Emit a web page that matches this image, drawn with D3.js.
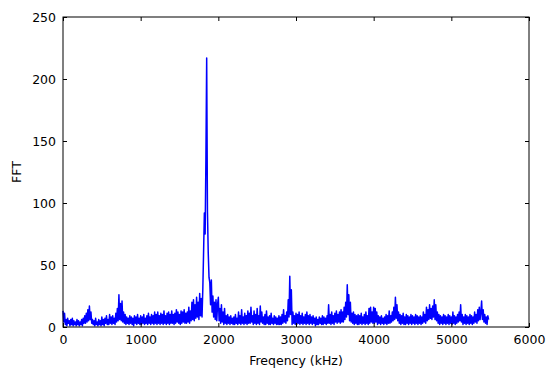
<!DOCTYPE html>
<html>
<head>
<meta charset="utf-8">
<script src="https://cdn.jsdelivr.net/npm/d3@7/dist/d3.min.js"></script>
<style>
  html, body { margin: 0; padding: 0; background: #fff; }
  svg { display: block; font-family: "DejaVu Sans", sans-serif; }
</style>
</head>
<body>
<svg id="chart" width="555" height="377"></svg>
<script>
// ---- data ----
const freqStart = 0;      // kHz
const freqStep = 10;      // kHz between FFT bins
const fftValues = [
  13, 4, 11, 2, 6, 1, 7, 3, 5, 1, 6, 2, 7, 1, 5, 2, 4, 1, 6, 2,
  5, 1, 4, 2, 6, 1, 7, 3, 9, 3, 11, 4, 14, 5, 17, 6, 12, 3, 6, 2,
  5, 1, 7, 2, 4, 1, 6, 2, 5, 1, 8, 2, 6, 1, 7, 3, 9, 2, 6, 2,
  10, 3, 8, 2, 9, 3, 7, 2, 11, 4, 15, 5, 26, 6, 19, 5, 21, 4, 12, 3,
  10, 2, 8, 3, 7, 2, 9, 3, 8, 2, 7, 1, 9, 3, 8, 2, 10, 3, 7, 2,
  9, 2, 8, 3, 10, 2, 7, 3, 9, 2, 11, 3, 8, 2, 10, 3, 9, 2, 12, 3,
  10, 2, 12, 3, 9, 2, 11, 3, 10, 2, 13, 3, 9, 2, 11, 3, 12, 2, 10, 3,
  13, 3, 10, 2, 11, 3, 14, 4, 12, 3, 10, 2, 13, 3, 12, 4, 14, 3, 11, 3,
  12, 4, 16, 3, 13, 5, 20, 6, 22, 5, 18, 7, 24, 8, 20, 6, 27, 9, 23, 8,
  30, 60, 92, 75, 135, 217, 93, 60, 40, 36, 18, 38, 12, 25, 8, 20, 6, 22, 5, 18,
  24, 5, 15, 3, 18, 4, 12, 2, 15, 3, 9, 2, 10, 3, 8, 2, 9, 3, 7, 2,
  8, 2, 10, 3, 7, 2, 12, 3, 9, 2, 14, 3, 8, 2, 11, 3, 9, 2, 13, 3,
  11, 3, 16, 4, 9, 2, 13, 3, 10, 2, 15, 3, 9, 2, 17, 4, 12, 3, 8, 2,
  10, 2, 13, 3, 8, 2, 9, 2, 11, 3, 7, 2, 9, 3, 8, 2, 7, 2, 9, 2,
  8, 2, 10, 3, 14, 4, 9, 3, 12, 5, 22, 8, 41, 10, 30, 2, 12, 3, 9, 2,
  11, 2, 10, 3, 12, 2, 9, 3, 11, 2, 8, 3, 10, 2, 12, 3, 9, 2, 10, 3,
  8, 2, 9, 3, 7, 1, 8, 2, 6, 2, 8, 3, 7, 2, 9, 2, 8, 3, 7, 2,
  9, 3, 18, 3, 10, 2, 12, 3, 9, 2, 11, 4, 13, 3, 10, 4, 12, 3, 14, 4,
  12, 4, 16, 6, 20, 8, 34, 10, 26, 5, 20, 4, 11, 3, 12, 2, 10, 3, 9, 2,
  10, 2, 9, 3, 11, 2, 8, 3, 10, 2, 12, 3, 9, 2, 15, 3, 16, 4, 12, 3,
  16, 3, 15, 4, 12, 2, 9, 3, 8, 2, 9, 3, 7, 2, 8, 3, 10, 2, 9, 3,
  13, 3, 9, 4, 12, 5, 16, 6, 24, 7, 18, 5, 12, 3, 10, 2, 9, 3, 11, 2,
  8, 2, 10, 3, 9, 2, 8, 3, 10, 2, 9, 3, 8, 2, 10, 3, 9, 2, 8, 3,
  9, 2, 8, 3, 12, 4, 10, 3, 16, 5, 14, 6, 18, 7, 15, 6, 17, 8, 22, 6,
  18, 5, 12, 3, 10, 2, 9, 3, 8, 2, 10, 3, 9, 2, 8, 3, 10, 2, 9, 3,
  8, 2, 12, 3, 9, 2, 8, 3, 10, 4, 12, 5, 18, 4, 10, 2, 8, 3, 10, 2,
  9, 3, 8, 2, 10, 3, 9, 2, 8, 3, 12, 4, 10, 3, 14, 5, 16, 6, 12, 21,
  6, 14, 4, 10, 3, 8, 2, 9, 6
];
const xTicks = [0, 1000, 2000, 3000, 4000, 5000, 6000];
const yTicks = [0, 50, 100, 150, 200, 250];
const xLabel = "Freqency (kHz)";
const yLabel = "FFT";

// ---- layout ----
const svg = d3.select("#chart");
const L = 63, R = 529, T = 17, B = 327;

const x = d3.scaleLinear().domain([0, 6000]).range([L, R]);
const y = d3.scaleLinear().domain([0, 250]).range([B, T]);

const points = fftValues.map((v, i) => [freqStart + i * freqStep, v]);

// line
svg.append("path")
  .datum(points)
  .attr("fill", "none")
  .attr("stroke", "#0000ff")
  .attr("stroke-width", 1.5)
  .attr("stroke-linejoin", "round")
  .attr("d", d3.line().x(d => x(d[0])).y(d => y(d[1])));

// axes (ticks inward, classic style)
const tickLen = 4;
const fs = 12.5;
const fmt = d3.format("d");
const bottomAxis = d3.axisBottom(x).tickValues(xTicks).tickFormat(fmt).tickSizeInner(-tickLen).tickSizeOuter(0).tickPadding(8);
const topAxis = d3.axisTop(x).tickValues(xTicks).tickSizeInner(-tickLen).tickSizeOuter(0).tickFormat("");
const leftAxis = d3.axisLeft(y).tickValues(yTicks).tickFormat(fmt).tickSizeInner(-tickLen).tickSizeOuter(0).tickPadding(7);
const rightAxis = d3.axisRight(y).tickValues(yTicks).tickSizeInner(-tickLen).tickSizeOuter(0).tickFormat("");

function style(g) {
  g.select(".domain").remove();
  g.selectAll(".tick line").attr("stroke", "#000").attr("stroke-width", 1);
  g.selectAll(".tick text").attr("fill", "#000").attr("font-size", fs).attr("font-family", "DejaVu Sans");
}
svg.append("g").attr("transform", `translate(0,${B})`).call(bottomAxis).call(style);
svg.append("g").attr("transform", `translate(0,${T})`).call(topAxis).call(style);
svg.append("g").attr("transform", `translate(${L},0)`).call(leftAxis).call(style);
svg.append("g").attr("transform", `translate(${R},0)`).call(rightAxis).call(style);

// frame
svg.append("rect")
  .attr("x", L).attr("y", T).attr("width", R - L).attr("height", B - T)
  .attr("fill", "none").attr("stroke", "#000").attr("stroke-width", 1);

// labels
svg.append("text")
  .attr("x", (L + R) / 2).attr("y", 365)
  .attr("text-anchor", "middle").attr("font-size", fs).attr("fill", "#000")
  .text(xLabel);
svg.append("text")
  .attr("transform", `translate(21,${(T + B) / 2}) rotate(-90)`)
  .attr("text-anchor", "middle").attr("font-size", fs).attr("fill", "#000")
  .text(yLabel);
</script>
</body>
</html>
